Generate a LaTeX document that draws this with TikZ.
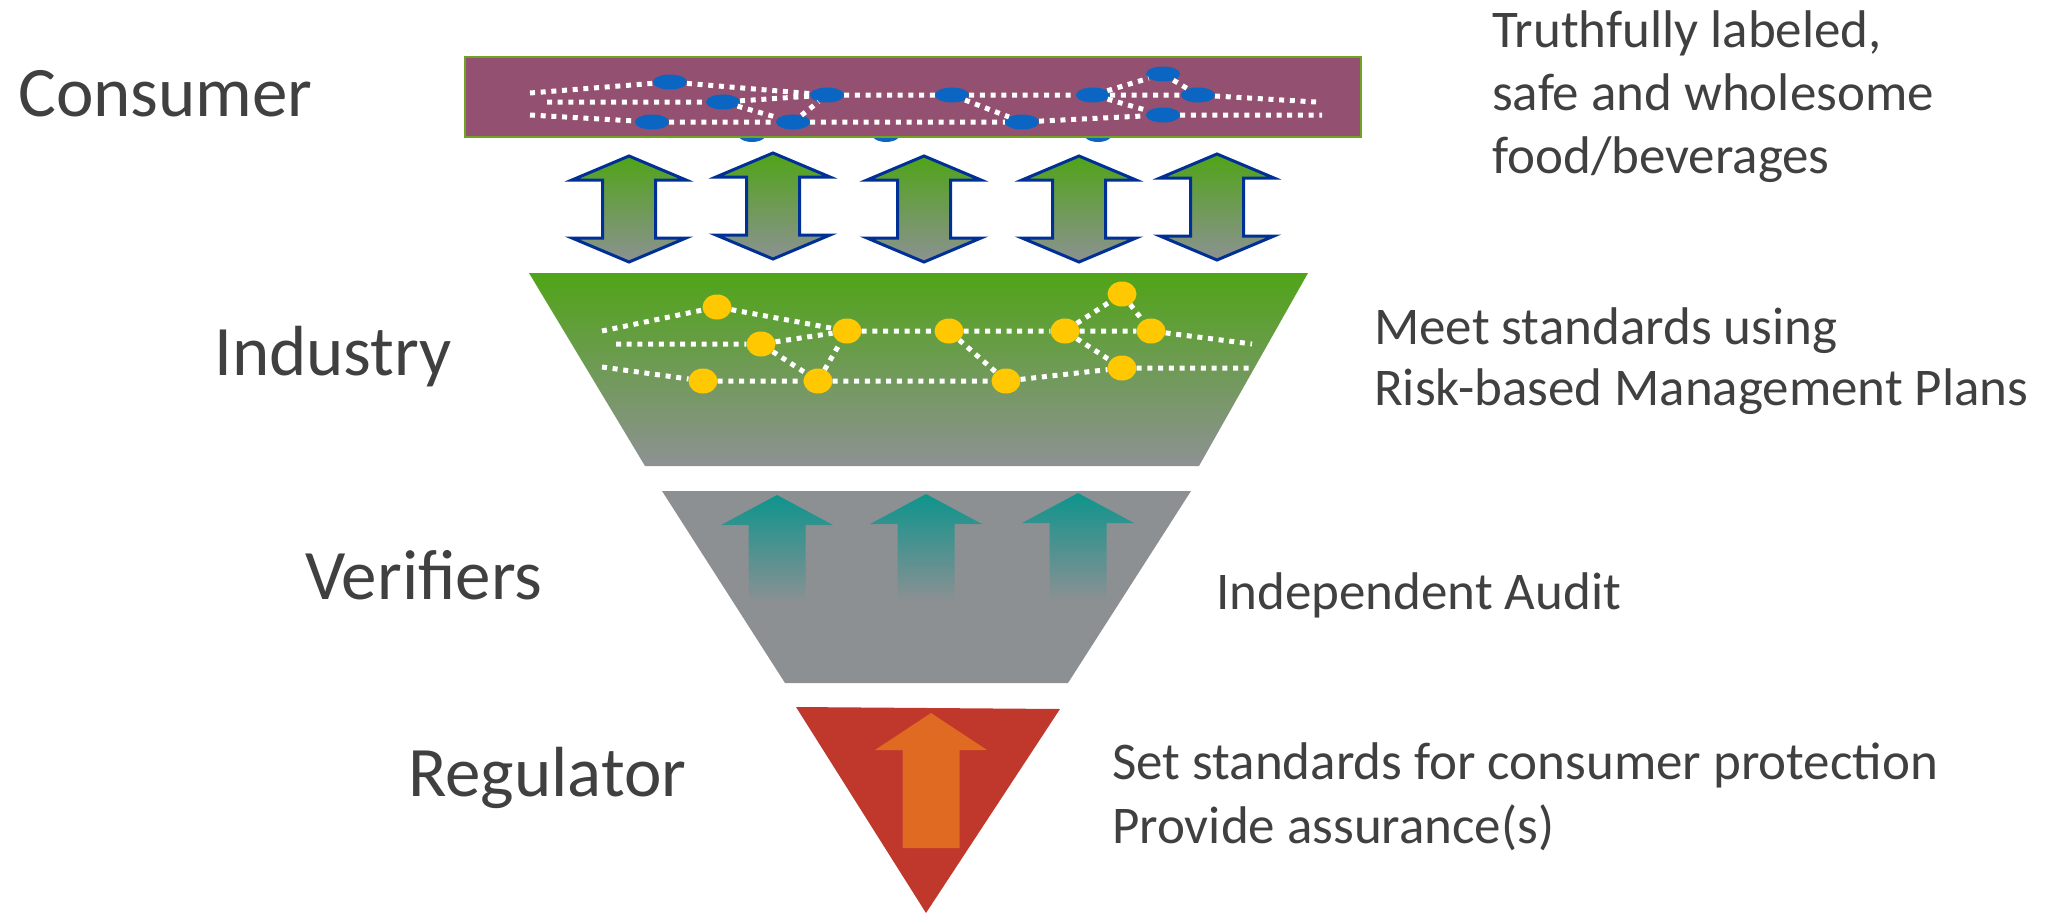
\documentclass[tikz,border=0pt]{standalone}
\usepackage{fontspec}
\setmainfont{Carlito}
\usetikzlibrary{shapes.geometric}

\definecolor{labelgray}{RGB}{64,64,64}
\definecolor{plum}{RGB}{148,80,112}
\definecolor{plumedge}{RGB}{112,162,36}
\definecolor{dotblue}{RGB}{10,102,194}
\definecolor{dotyellow}{RGB}{255,200,0}
\definecolor{leafgreen}{RGB}{80,164,24}
\definecolor{steelgray}{RGB}{142,145,148}
\definecolor{arrowgray}{RGB}{140,145,146}
\definecolor{outlineblue}{RGB}{0,48,150}
\definecolor{auditgray}{RGB}{141,144,147}
\definecolor{auditteal}{RGB}{14,148,140}
\definecolor{regred}{RGB}{192,56,44}
\definecolor{regorange}{RGB}{224,106,34}

\begin{document}
\begin{tikzpicture}[x=1pt,y=-1pt,
  tierlabel/.style={font=\fontsize{71}{85}\selectfont, text=labelgray, anchor=base west, inner sep=0pt},
  remark/.style={font=\fontsize{53}{63}\selectfont, text=labelgray, anchor=base west, inner sep=0pt},
  netline/.style={draw=white, line width=5pt, dash pattern=on 5pt off 5.7pt},
  bluedot/.style={ellipse, fill=dotblue, minimum width=34pt, minimum height=15pt, inner sep=0pt},
  golddot/.style={ellipse, fill=dotyellow, minimum width=29pt, minimum height=25pt, inner sep=0pt},
  dblarrowbody/.style={draw=outlineblue, line width=3pt, line join=miter,
    top color=leafgreen, bottom color=arrowgray},
  auditarrowbody/.style={top color=auditteal, bottom color=auditgray},
  dblarrow/.pic={
    \path[dblarrowbody] (0,0) -- (57,24) -- (26.5,24) -- (26.5,82) -- (57,82)
      -- (0,106) -- (-57,82) -- (-26.5,82) -- (-26.5,24) -- (-57,24) -- cycle;
  },
  auditarrow/.pic={
    \path[auditarrowbody] (0,0) -- (56,30) -- (28.5,30) -- (28.5,108)
      -- (-28.5,108) -- (-28.5,30) -- (-56,30) -- cycle;
  }
]
\useasboundingbox (0,0) rectangle (2057,913);

% ---------- Consumer tier ----------
% nodes partly hidden behind the bar
\node[bluedot, minimum width=30pt, minimum height=18pt] (cp1) at (752,133) {};
\node[bluedot, minimum width=30pt, minimum height=18pt] (cp2) at (886,133) {};
\node[bluedot, minimum width=30pt, minimum height=18pt] (cp3) at (1098,133) {};

\path[fill=plum, draw=plumedge, line width=2.5pt] (465,57) rectangle (1361,137);

\node[bluedot] (ca) at (670,82) {};
\node[bluedot] (cb) at (723,102) {};
\node[bluedot] (cc) at (827,95) {};
\node[bluedot] (cd) at (952,95) {};
\node[bluedot] (ce) at (652,122) {};
\node[bluedot] (cf) at (793,122) {};
\node[bluedot] (cg) at (1022,122) {};
\node[bluedot] (ch) at (1163,74) {};
\node[bluedot] (ci) at (1093,95) {};
\node[bluedot] (cj) at (1198,95) {};
\node[bluedot] (ck) at (1163,115) {};

\coordinate (cl1) at (530,93);
\coordinate (cl2) at (547,102);
\coordinate (cl3) at (530,115);
\coordinate (cr2) at (1316,102);
\coordinate (cr3) at (1322,115);

\draw[netline] (cl1) -- (ca) -- (cc);
\draw[netline] (cl2) -- (cb) -- (cc);
\draw[netline] (cl3) -- (ce) -- (cf) -- (cg) -- (ck) -- (cr3);
\draw[netline] (cb) -- (cf) -- (cc);
\draw[netline] (cc) -- (cd) -- (ci) -- (cj) -- (cr2);
\draw[netline] (cd) -- (cg);
\draw[netline] (ci) -- (ch) -- (cj);
\draw[netline] (ci) -- (ck);

% ---------- two-way exchange arrows ----------
\pic (x1) at (629,156) {dblarrow};
\pic (x2) at (773,153) {dblarrow};
\pic (x3) at (924,156) {dblarrow};
\pic (x4) at (1079,156) {dblarrow};
\pic (x5) at (1217,154) {dblarrow};

% ---------- Industry tier ----------
\path[top color=leafgreen, bottom color=steelgray]
  (529,273) -- (1308,273) -- (1199,466) -- (645,466) -- cycle;

\node[golddot] (ia) at (717,307) {};
\node[golddot] (ib) at (761,344) {};
\node[golddot] (ic) at (847,331) {};
\node[golddot] (id) at (949,331) {};
\node[golddot] (ie) at (703,381) {};
\node[golddot] (if) at (818,381) {};
\node[golddot] (ig) at (1006,381) {};
\node[golddot] (ih) at (1122,294) {};
\node[golddot] (ii) at (1065,331) {};
\node[golddot] (ij) at (1151,331) {};
\node[golddot] (ik) at (1122,368) {};

\coordinate (il1) at (602,331);
\coordinate (il2) at (616,344);
\coordinate (il3) at (602,367);
\coordinate (ir2) at (1252,344);
\coordinate (ir3) at (1250,368);

\draw[netline] (il1) -- (ia) -- (ic);
\draw[netline] (il2) -- (ib) -- (ic);
\draw[netline] (il3) -- (ie) -- (if) -- (ig) -- (ik) -- (ir3);
\draw[netline] (ib) -- (if) -- (ic);
\draw[netline] (ic) -- (id) -- (ii) -- (ij) -- (ir2);
\draw[netline] (id) -- (ig);
\draw[netline] (ii) -- (ih) -- (ij);
\draw[netline] (ii) -- (ik);

% ---------- Verifiers tier ----------
\path[fill=auditgray] (662,491) -- (1191,491) -- (1068,683) -- (785,683) -- cycle;
\pic (v1) at (777,495) {auditarrow};
\pic (v2) at (926,494) {auditarrow};
\pic (v3) at (1078,493) {auditarrow};

% ---------- Regulator tier ----------
\path[fill=regred] (796,707) -- (1060,709) -- (926,913) -- cycle;
\path[fill=regorange] (931,713) -- (987,750) -- (959.5,750) -- (959.5,848)
  -- (902.5,848) -- (902.5,750) -- (875,750) -- cycle;

% ---------- tier names ----------
\node[tierlabel] (lconsumer) at (18,116) {Consumer};
\node[tierlabel] (lindustry) at (214,375) {Industry};
\node[tierlabel] (lverifiers) at (305,599) {Verifiers};
\node[tierlabel] (lregulator) at (408,796) {Regulator};

% ---------- roles ----------
\node[remark] (t1) at (1492,47) {Truthfully labeled,};
\node[remark] (t2) at (1492,110) {safe and wholesome};
\node[remark] (t3) at (1492,173) {food/beverages};
\node[remark] (m1) at (1374,344) {Meet standards using};
\node[remark] (m2) at (1374,405) {Risk-based Management Plans};
\node[remark] (a1) at (1216,609) {Independent Audit};
\node[remark] (s1) at (1112,779) {Set standards for consumer protection};
\node[remark] (s2) at (1112,843) {Provide assurance(s)};
\end{tikzpicture}
\end{document}
